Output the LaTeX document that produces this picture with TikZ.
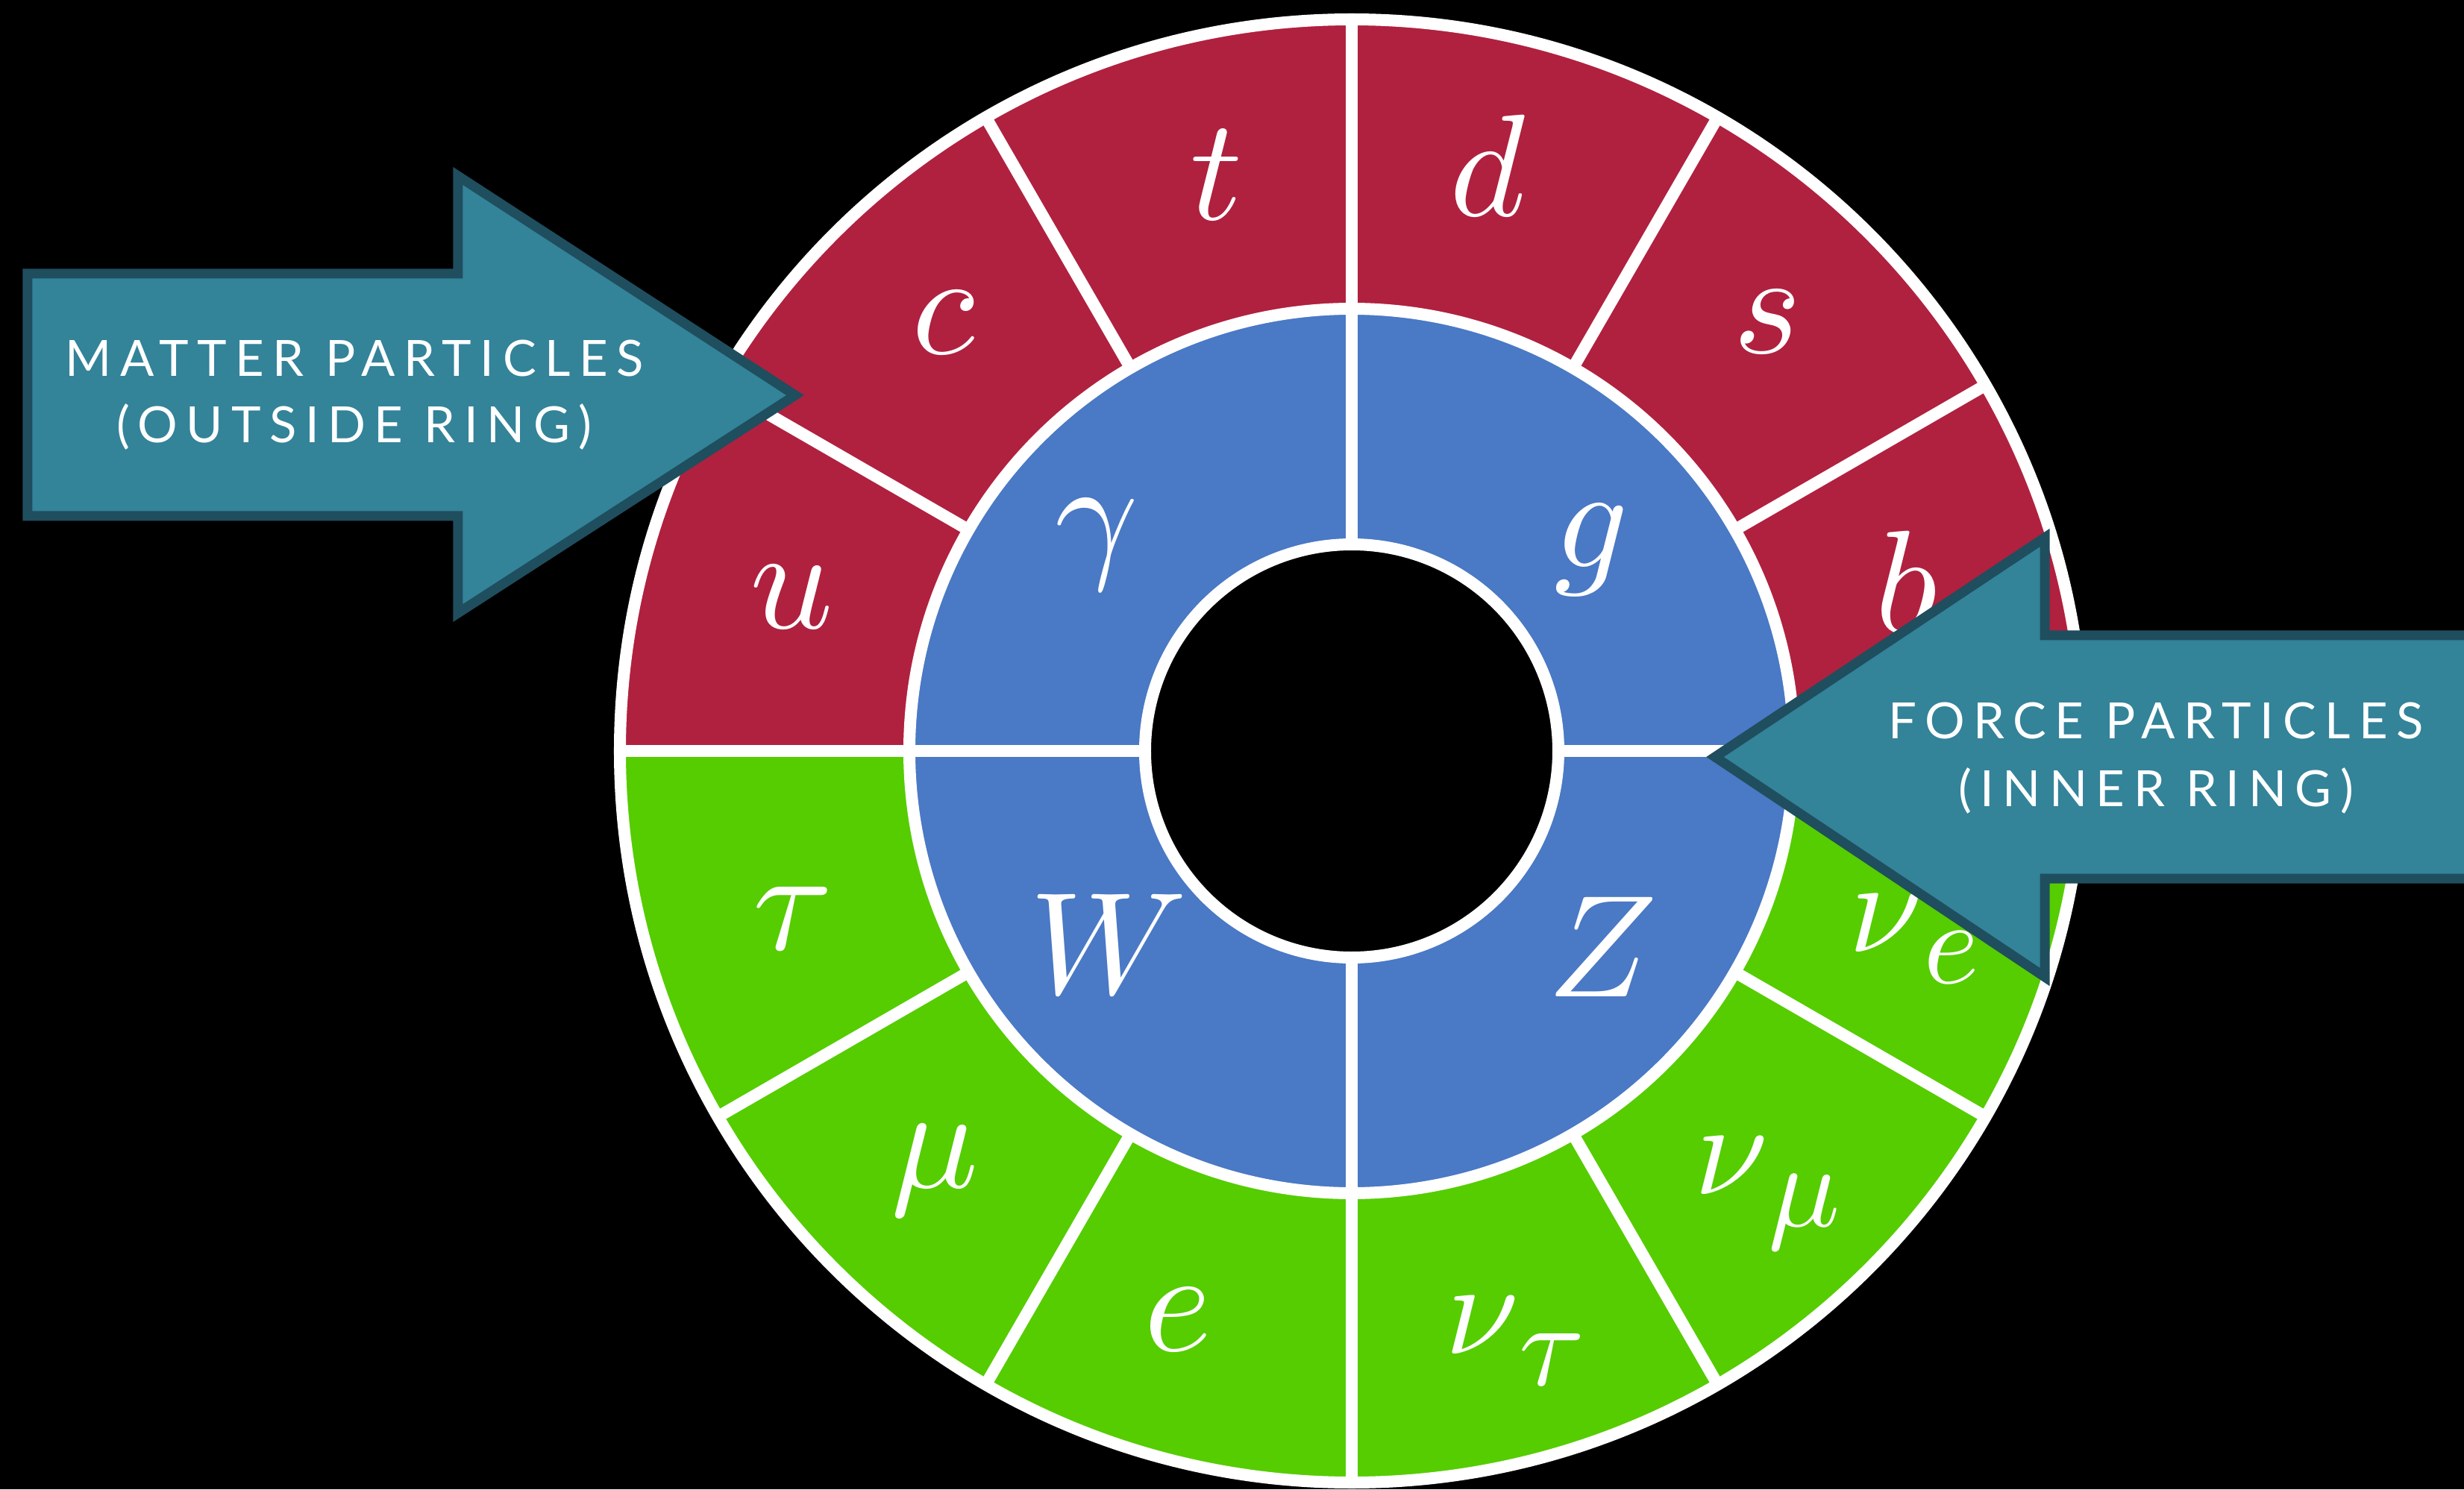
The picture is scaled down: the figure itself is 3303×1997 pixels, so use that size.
\documentclass[tikz,border=0pt]{standalone}
\usepackage{fontspec}
\newfontfamily\arrfont{Lato}[LetterSpace=17]
\definecolor{quarkred}{RGB}{176,33,63}
\definecolor{bosonblue}{RGB}{74,121,197}
\definecolor{leptongreen}{RGB}{85,205,0}
\definecolor{arrowfill}{RGB}{51,131,153}
\definecolor{arrowedge}{RGB}{31,78,94}
\newcommand{\plab}[1]{\scalebox{19.5}{#1}}
\newcommand{\pnu}[1]{\scalebox{17.8}{$\nu$\raisebox{-2.4pt}{\scalebox{0.9}{$#1$}}}}
\tikzset{
  ringline/.style={draw=white, line width=16pt},
  lbl/.style={text=white, inner sep=0pt},
  bigarrow/.style={fill=arrowfill, draw=arrowedge, line width=13pt, line join=miter},
  arrowtext/.style={text=white, inner sep=0pt, anchor=base, font=\arrfont\fontsize{67}{67}\selectfont}
}
\begin{document}
\begin{tikzpicture}[x=1pt,y=1pt]
\useasboundingbox (-1812,-990) rectangle (1491,1007);
\fill[black] (-1812,-990) rectangle (1491,1007);
\begin{scope}
\clip (-1812,-990) rectangle (1491,1007);
% outer ring
\fill[quarkred] (0,0) -- (0:981) arc[start angle=0,end angle=180,radius=981] -- cycle;
\fill[leptongreen] (0,0) -- (180:981) arc[start angle=180,end angle=360,radius=981] -- cycle;
% inner ring
\fill[bosonblue] (0,0) circle[radius=593];
\fill[black] (0,0) circle[radius=277];
% white separators
\foreach \a in {30,60,120,150,210,240,300,330} \draw[ringline] (\a:593) -- (\a:981);
\foreach \a in {0,90,180,270} \draw[ringline] (\a:277) -- (\a:981);
\draw[ringline] (0,0) circle[radius=981];
\draw[ringline] (0,0) circle[radius=593];
\draw[ringline] (0,0) circle[radius=277];
% matter labels
\node[lbl] (t) at (103.2:793) {\plab{$t$}};
\node[lbl] (d) at (76.9:806) {\plab{$d$}};
\node[lbl] (s) at (45.9:801) {\plab{$s$}};
\node[lbl] (b) at (17:777) {\plab{$b$}};
\node[lbl] (c) at (133.6:794) {\plab{$c$}};
\node[lbl] (u) at (164.6:779) {\plab{$u$}};
\node[lbl] (tau) at (196.7:782) {\plab{$\tau$}};
\node[lbl] (mu) at (225.2:793) {\plab{$\mu$}};
\node[lbl] (e) at (253:797) {\plab{$e$}};
\node[lbl] (nutau) at (285.5:821) {\pnu{\tau}};
\node[lbl] (numu) at (313.2:814) {\pnu{\mu}};
\node[lbl] (nue) at (341.5:795) {\pnu{e}};
% force labels
\node[lbl] (gamma) at (141:439) {\plab{$\gamma$}};
\node[lbl] (g) at (40:420) {\plab{$g$}};
\node[lbl] (W) at (218.5:416) {\plab{$W$}};
\node[lbl] (Z) at (322:427) {\plab{$Z$}};
% arrows
\draw[bigarrow] (-1775,640) -- (-1198,640) -- (-1198,771) -- (-746,477) -- (-1198,185) -- (-1198,315) -- (-1775,315) -- cycle;
\draw[bigarrow] (487,-8) -- (929,286) -- (929,155) -- (1520,155) -- (1520,-171) -- (929,-171) -- (929,-303) -- cycle;
\end{scope}
\node[arrowtext] (matterA) at (-1337,502) {MATTER PARTICLES};
\node[arrowtext] (matterB) at (-1337,413) {(OUTSIDE RING)};
\node[arrowtext] (forceA) at (1078,17) {FORCE PARTICLES};
\node[arrowtext] (forceB) at (1078,-74) {(INNER RING)};
\end{tikzpicture}
\end{document}
